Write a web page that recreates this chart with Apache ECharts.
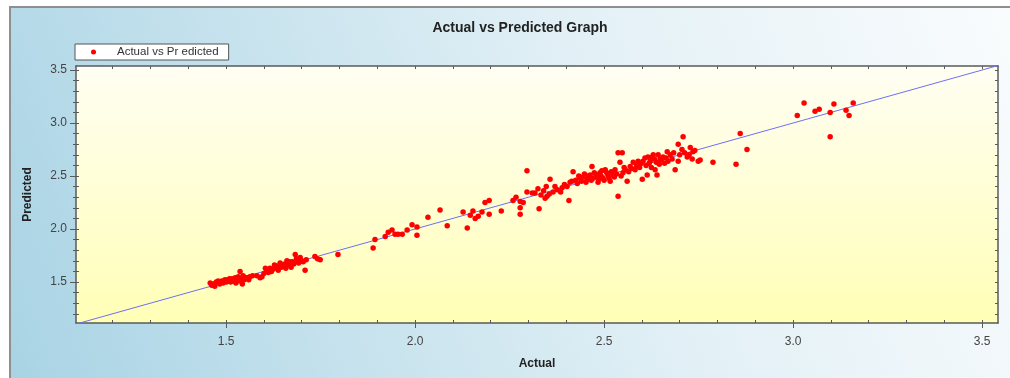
<!DOCTYPE html>
<html>
<head>
<meta charset="utf-8">
<script src="https://cdn.jsdelivr.net/npm/echarts@6.0.0/dist/echarts.min.js"></script>
<style>
  html, body { margin: 0; padding: 0; background: #fff; }
  #chart { width: 1010px; height: 378px; }
</style>
</head>
<body>
<div id="chart"></div>
<script>
// data
const actual = [
  1.458, 1.462, 1.466, 1.470, 1.474, 1.479, 1.483, 1.489, 1.492, 1.497,
  1.501, 1.505, 1.509, 1.512, 1.516, 1.520, 1.524, 1.526, 1.529, 1.532,
  1.537, 1.537, 1.540, 1.543, 1.545, 1.548, 1.552, 1.556, 1.560, 1.563,
  1.570, 1.582, 1.590, 1.595, 1.600, 1.604, 1.608, 1.612, 1.616, 1.620,
  1.624, 1.628, 1.632, 1.635, 1.638, 1.643, 1.646, 1.651, 1.655, 1.658,
  1.661, 1.665, 1.668, 1.672, 1.675, 1.679, 1.683, 1.686, 1.688, 1.692,
  1.696, 1.700, 1.704, 1.709, 1.712, 1.735, 1.742, 1.749, 1.796,
  1.889, 1.894, 1.921, 1.929, 1.939, 1.947, 1.955, 1.966, 1.979, 1.992,
  2.005, 2.005, 2.034, 2.066, 2.085, 2.127, 2.138, 2.146, 2.153, 2.159,
  2.167, 2.177, 2.185, 2.196, 2.196, 2.228, 2.259, 2.267, 2.278, 2.278,
  2.278, 2.286, 2.296, 2.296, 2.310, 2.317, 2.325, 2.328, 2.344, 2.347,
  2.349, 2.357, 2.365, 2.376, 2.389, 2.407, 2.415, 2.418, 2.429, 2.437,
  2.444, 2.455, 2.463, 2.468, 2.471, 2.481, 2.484, 2.489, 2.497, 2.503,
  2.511, 2.516, 2.524, 2.529, 2.537, 2.537, 2.542, 2.548, 2.550, 2.556,
  2.561, 2.569, 2.577, 2.582, 2.590, 2.601, 2.603, 2.608, 2.614, 2.616,
  2.622, 2.627, 2.630, 2.635, 2.640, 2.643, 2.648, 2.656, 2.667, 2.669,
  2.675, 2.688, 2.696, 2.696, 2.706, 2.709, 2.720, 2.728, 2.733, 2.735,
  2.749, 2.754, 2.788, 2.849, 2.860, 2.878,
  3.011, 3.029, 3.058, 3.069, 3.098, 3.098, 3.108, 3.140, 3.148, 3.159,
  2.425, 2.433, 2.440, 2.448, 2.452, 2.458, 2.466, 2.474, 2.478, 2.486,
  2.492, 2.494, 2.500, 2.507, 2.513, 2.519, 2.527, 2.533, 2.545, 2.553,
  2.565, 2.573, 2.586, 2.594, 2.598, 2.611, 2.619, 2.625, 2.633, 2.638,
  2.646, 2.652, 2.660, 2.664, 2.680, 2.684, 2.700, 2.713, 2.725, 2.740,
  2.395, 2.402, 2.410, 2.385, 2.370, 2.340, 2.355, 2.333
];
const predicted = [
  1.49, 1.47, 1.48, 1.46, 1.50, 1.51, 1.48, 1.51, 1.49, 1.52,
  1.50, 1.52, 1.53, 1.50, 1.53, 1.51, 1.54, 1.49, 1.51, 1.55,
  1.60, 1.51, 1.53, 1.48, 1.56, 1.52, 1.54, 1.54, 1.52, 1.55,
  1.56, 1.56, 1.54, 1.55, 1.58, 1.63, 1.61, 1.59, 1.63, 1.60,
  1.62, 1.66, 1.63, 1.65, 1.61, 1.68, 1.64, 1.65, 1.67, 1.63,
  1.70, 1.66, 1.69, 1.64, 1.69, 1.67, 1.76, 1.72, 1.71, 1.68,
  1.73, 1.70, 1.69, 1.61, 1.71, 1.74, 1.72, 1.71, 1.76,
  1.82, 1.90, 1.93, 1.97, 1.99, 1.95, 1.95, 1.95, 1.99, 2.04,
  2.02, 1.94, 2.11, 2.18, 2.03, 2.16, 2.01, 2.13, 2.17, 2.10,
  2.12, 2.16, 2.25, 2.27, 2.14, 2.17, 2.27, 2.30, 2.26, 2.20,
  2.14, 2.25, 2.55, 2.35, 2.34, 2.34, 2.38, 2.19, 2.29, 2.40,
  2.31, 2.47, 2.35, 2.37, 2.39, 2.27, 2.45, 2.54, 2.43, 2.48,
  2.49, 2.47, 2.51, 2.59, 2.48, 2.51, 2.44, 2.53, 2.48, 2.56,
  2.50, 2.45, 2.51, 2.56, 2.72, 2.31, 2.63, 2.72, 2.53, 2.56,
  2.45, 2.59, 2.63, 2.56, 2.64, 2.47, 2.64, 2.67, 2.51, 2.68,
  2.64, 2.68, 2.70, 2.56, 2.51, 2.70, 2.66, 2.68, 2.73, 2.64,
  2.70, 2.56, 2.80, 2.64, 2.75, 2.87, 2.68, 2.77, 2.66, 2.73,
  2.64, 2.65, 2.63, 2.61, 2.90, 2.75,
  3.07, 3.19, 3.11, 3.13, 3.10, 2.87, 3.18, 3.12, 3.07, 3.19,
  2.46, 2.50, 2.45, 2.52, 2.44, 2.50, 2.46, 2.53, 2.49, 2.47,
  2.50, 2.55, 2.46, 2.53, 2.48, 2.54, 2.49, 2.52, 2.50, 2.58,
  2.54, 2.57, 2.60, 2.58, 2.62, 2.60, 2.62, 2.58, 2.66, 2.63,
  2.61, 2.65, 2.62, 2.67, 2.66, 2.72, 2.70, 2.72, 2.70, 2.74,
  2.42, 2.40, 2.44, 2.35, 2.40, 2.36, 2.33, 2.32
];
// reference line (actual = predicted), ends at the plot corners
const refLine = [1.103, 3.542];

const xRange = [1.103, 3.542];
const yRange = [1.113, 3.538];
const majorTicks = [1.5, 2.0, 2.5, 3.0, 3.5];
const minorTicks = [1.2, 1.3, 1.4, 1.5, 1.6, 1.7, 1.8, 1.9, 2.0, 2.1, 2.2, 2.3,
  2.4, 2.5, 2.6, 2.7, 2.8, 2.9, 3.0, 3.1, 3.2, 3.3, 3.4, 3.5];

const chart = echarts.init(document.getElementById('chart'));

const lineCol = '#5a5a5a';
const font = 'Liberation Sans, Arial, sans-serif';

function tickAxis(pos, range, ticks, inside, len, showLine) {
  return {
    type: 'value', position: pos, min: range[0], max: range[1],
    axisLine: { show: showLine, lineStyle: { color: lineCol, width: 1.5 } },
    axisTick: { show: true, inside: inside, length: len, customValues: ticks,
      lineStyle: { color: lineCol, width: 1 } },
    axisLabel: { show: false },
    splitLine: { show: false }
  };
}

const pts = actual.map((a, i) => [a, predicted[i]]);

chart.setOption({
  animation: false,
  graphic: [{
    type: 'rect', z: -100,
    shape: { x: 10, y: 7, width: 1010, height: 390 },
    style: {
      fill: new echarts.graphic.LinearGradient(0, 1, 1, 0, [
        { offset: 0, color: '#a8d3e4' },
        { offset: 0.6, color: '#e2f0f6' },
        { offset: 1, color: '#fafcfd' }
      ]),
      stroke: '#8f8f8f', lineWidth: 2
    }
  }],
  title: {
    text: 'Actual vs Predicted Graph',
    left: 515, top: 16, textAlign: 'center',
    textStyle: { fontFamily: font, fontSize: 14, fontWeight: 'bold', color: '#222' }
  },
  legend: {
    left: 75, top: 44,
    padding: [2, 10, 2, 16],
    backgroundColor: '#fff',
    borderColor: '#555', borderWidth: 1,
    itemWidth: 5, itemHeight: 5,
    icon: 'circle',
    textStyle: { fontFamily: font, fontSize: 11.5, color: '#333', padding: [0, 0, 0, 16] },
    data: ['Actual vs Pr edicted']
  },
  grid: {
    left: 76, top: 66, right: 12, bottom: 55,
    show: true, borderWidth: 0,
    backgroundColor: new echarts.graphic.LinearGradient(0, 0, 0, 1, [
      { offset: 0, color: '#fffef3' },
      { offset: 1, color: '#ffffb6' }
    ])
  },
  xAxis: [
    {
      type: 'value', position: 'bottom', min: xRange[0], max: xRange[1],
      name: 'Actual', nameLocation: 'middle', nameGap: 35,
      nameTextStyle: { fontFamily: font, fontSize: 12, fontWeight: 'bold', color: '#222' },
      axisLine: { show: true, lineStyle: { color: lineCol, width: 1.5 } },
      axisTick: { show: true, inside: false, length: 5, customValues: majorTicks,
        lineStyle: { color: lineCol, width: 1 } },
      axisLabel: { customValues: majorTicks, margin: 13,
        formatter: v => v.toFixed(1),
        fontFamily: font, fontSize: 12, color: '#444' },
      splitLine: { show: false }
    },
    tickAxis('bottom', xRange, minorTicks, true, 3, false),
    tickAxis('top', xRange, minorTicks, true, 3, true)
  ],
  yAxis: [
    {
      type: 'value', position: 'left', min: yRange[0], max: yRange[1],
      name: 'Predicted', nameLocation: 'middle', nameGap: 42,
      nameTextStyle: { fontFamily: font, fontSize: 12, fontWeight: 'bold', color: '#222' },
      axisLine: { show: true, lineStyle: { color: lineCol, width: 1.5 } },
      axisTick: { show: true, inside: false, length: 6, customValues: majorTicks,
        lineStyle: { color: lineCol, width: 1 } },
      axisLabel: { customValues: majorTicks, margin: 9,
        formatter: v => v.toFixed(1),
        fontFamily: font, fontSize: 12, color: '#444' },
      splitLine: { show: false }
    },
    tickAxis('left', yRange, minorTicks, false, 3, false),
    tickAxis('left', yRange, minorTicks, true, 3, false),
    tickAxis('right', yRange, minorTicks, true, 3, true)
  ],
  series: [
    {
      type: 'line', name: 'fit', xAxisIndex: 0, yAxisIndex: 0,
      data: refLine.map(v => [v, v]),
      symbol: 'none', clip: true, z: 1,
      lineStyle: { color: '#6f6ff5', width: 1 }
    },
    {
      type: 'scatter', name: 'Actual vs Pr edicted', xAxisIndex: 0, yAxisIndex: 0,
      data: pts, symbolSize: 5.5, z: 2,
      itemStyle: { color: '#ff0000', opacity: 1 }
    }
  ]
});
</script>
</body>
</html>
